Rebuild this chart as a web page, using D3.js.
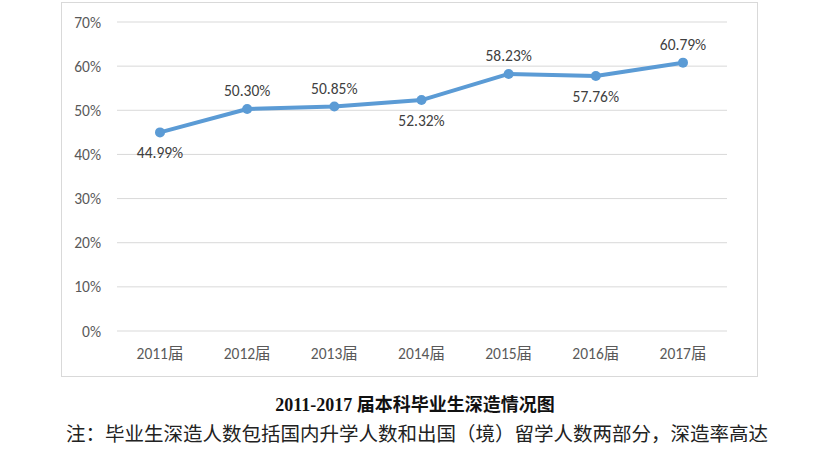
<!DOCTYPE html>
<html><head><meta charset="utf-8">
<script src="https://cdn.jsdelivr.net/npm/d3@7"></script>
<style>body{margin:0;background:#fff;overflow:hidden}</style>
</head><body><div id="chart"></div>
<script>
const years = ["2011届","2012届","2013届","2014届","2015届","2016届","2017届"];
const rates = [44.99, 50.30, 50.85, 52.32, 58.23, 57.76, 60.79];
const labelAbove = [false, true, true, false, true, false, true];
const yTicks = [0,10,20,30,40,50,60,70];

const W = 830, H = 451;
const svg = d3.select("#chart").append("svg").attr("width", W).attr("height", H);
const font = "Calibri, 'Noto Sans CJK SC', 'Open Sans', sans-serif";

svg.append("rect").attr("x", 61.5).attr("y", 2.5).attr("width", 696).attr("height", 374)
  .attr("fill", "#fff").attr("stroke", "#d9d9d9");

const x = d3.scalePoint().domain(years).range([160, 683]);
const y = d3.scaleLinear().domain([0, 70]).range([331, 22]);

svg.selectAll("line.grid").data(yTicks).join("line").attr("class", "grid")
  .attr("x1", 117).attr("x2", 727).attr("y1", d => y(d)).attr("y2", d => y(d))
  .attr("stroke", "#d9d9d9");
svg.selectAll("text.yt").data(yTicks).join("text").attr("class", "yt")
  .attr("x", 101).attr("y", d => y(d) + 5.5).attr("text-anchor", "end")
  .attr("font-family", font).attr("font-size", 15.5).attr("fill", "#595959")
  .text(d => d + "%");
svg.selectAll("text.xt").data(years).join("text").attr("class", "xt")
  .attr("x", d => x(d)).attr("y", 359).attr("text-anchor", "middle")
  .attr("font-family", font).attr("font-size", 15.5).attr("fill", "#595959")
  .text(d => d);

const line = d3.line().x((d, i) => x(years[i])).y(d => y(d));
svg.append("path").datum(rates).attr("d", line).attr("fill", "none")
  .attr("stroke", "#5b9bd5").attr("stroke-width", 4).attr("stroke-linejoin", "round");
svg.selectAll("circle").data(rates).join("circle")
  .attr("cx", (d, i) => x(years[i])).attr("cy", d => y(d)).attr("r", 5).attr("fill", "#5b9bd5");
svg.selectAll("text.dl").data(rates).join("text").attr("class", "dl")
  .attr("x", (d, i) => x(years[i])).attr("y", (d, i) => y(d) + (labelAbove[i] ? -13 : 26))
  .attr("text-anchor", "middle").attr("font-family", font).attr("font-size", 15.5).attr("fill", "#404040")
  .text(d => d.toFixed(2) + "%");

svg.append("text").attr("x", 415).attr("y", 411).attr("text-anchor", "middle")
  .attr("font-family", "'Liberation Serif','Noto Sans CJK SC',serif").attr("font-size", 18)
  .attr("font-weight", "bold").attr("fill", "#111")
  .text("2011-2017 届本科毕业生深造情况图");
svg.append("text").attr("x", 66).attr("y", 441)
  .attr("font-family", "'Noto Sans CJK SC',serif").attr("font-size", 19.5).attr("fill", "#222")
  .text("注：毕业生深造人数包括国内升学人数和出国（境）留学人数两部分，深造率高达");
</script></body></html>
